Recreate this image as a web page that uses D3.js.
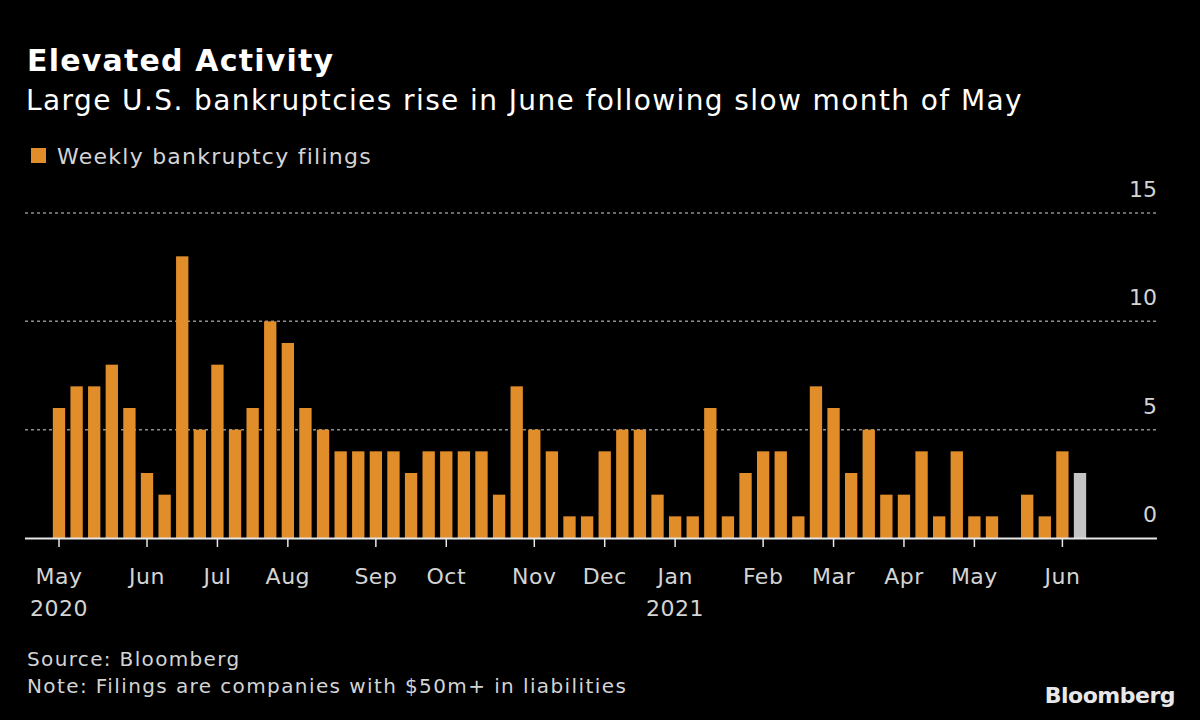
<!DOCTYPE html>
<html>
<head>
<meta charset="utf-8">
<script src="https://cdn.jsdelivr.net/npm/d3@7"></script>
<style>
  html, body { margin: 0; padding: 0; background: #000; }
  svg { display: block; }
  text { font-family: "DejaVu Sans", sans-serif; }
</style>
</head>
<body>
<svg id="chart" width="1200" height="720"></svg>
<script>
// ---- Data ----
const firstWeekEnding = "2020-05-02"; // weekly bars, weeks ending Saturday
const filings = [6, 7, 7, 8, 6, 3, 2, 13, 5, 8, 5, 6, 10, 9, 6, 5, 4, 4, 4, 4,
                 3, 4, 4, 4, 4, 2, 7, 5, 4, 1, 1, 4, 5, 5, 2, 1, 1, 6, 1, 3,
                 4, 4, 1, 7, 6, 3, 5, 2, 2, 4, 1, 4, 1, 1, 0, 2, 1, 4, 3];
const partialWeeks = [58]; // index of the current, incomplete week (gray)
const yTicks = [0, 5, 10, 15];
const monthTicks = ["2020-05-01", "2020-06-01", "2020-07-01", "2020-08-01", "2020-09-01",
                    "2020-10-01", "2020-11-01", "2020-12-01", "2021-01-01", "2021-02-01",
                    "2021-03-01", "2021-04-01", "2021-05-01", "2021-06-01"];

const parse = d3.utcParse("%Y-%m-%d");
const start = parse(firstWeekEnding);
const weeks = filings.map((v, i) => ({ date: d3.utcDay.offset(start, 7 * i), value: v, i }));

const svg = d3.select("#chart");
svg.append("rect").attr("width", 1200).attr("height", 720).attr("fill", "#000");

const ORANGE = "#e08d2a";
const GRAY = "#c4c4c4";
const TEXT = "#d4d4d4";

// ---- Scales ----
const x = d3.scaleBand()
  .domain(weeks.map(d => d.i))
  .range([50.2, 1088.8])
  .paddingInner(0.3)
  .paddingOuter(0.15);
const y = d3.scaleLinear().domain([0, 15]).range([538, 213]);

const plotLeft = 25, plotRight = 1157;

// ---- Gridlines ----
svg.append("g").selectAll("line")
  .data(yTicks.filter(t => t > 0))
  .join("line")
  .attr("x1", plotLeft).attr("x2", plotRight)
  .attr("y1", d => y(d)).attr("y2", d => y(d))
  .attr("stroke", "#8f8f8f").attr("stroke-width", 1.5)
  .attr("stroke-dasharray", "3,3");

// ---- Y labels (right, above gridlines) ----
svg.append("g").selectAll("text")
  .data(yTicks)
  .join("text")
  .attr("x", plotRight).attr("y", d => y(d) - 16)
  .attr("text-anchor", "end")
  .attr("fill", TEXT).attr("font-size", 22)
  .text(d => d);

// ---- Bars ----
svg.append("g").selectAll("rect")
  .data(weeks)
  .join("rect")
  .attr("x", d => x(d.i))
  .attr("width", x.bandwidth())
  .attr("y", d => y(d.value))
  .attr("height", d => y(0) - y(d.value))
  .attr("fill", d => partialWeeks.includes(d.i) ? GRAY : ORANGE);

// ---- Baseline ----
svg.append("line")
  .attr("x1", plotLeft).attr("x2", plotRight)
  .attr("y1", y(0) + 0.5).attr("y2", y(0) + 0.5)
  .attr("stroke", "#e6e6e6").attr("stroke-width", 2);

// ---- X ticks: first week ending on/after month start ----
const tickInfo = monthTicks.map(m => {
  const md = parse(m);
  const w = weeks.find(d => d.date >= md);
  return { month: md, idx: w.i };
});
const monthFmt = d3.utcFormat("%b");
const xAxis = svg.append("g");
xAxis.selectAll("line")
  .data(tickInfo)
  .join("line")
  .attr("x1", d => x(d.idx) + x.bandwidth() / 2)
  .attr("x2", d => x(d.idx) + x.bandwidth() / 2)
  .attr("y1", y(0)).attr("y2", y(0) + 9)
  .attr("stroke", "#e6e6e6").attr("stroke-width", 1.5);
xAxis.selectAll("text.m")
  .data(tickInfo)
  .join("text")
  .attr("class", "m")
  .attr("x", d => x(d.idx) + x.bandwidth() / 2)
  .attr("y", 584)
  .attr("text-anchor", "middle")
  .attr("fill", TEXT).attr("font-size", 22).attr("letter-spacing", 0.5)
  .text(d => monthFmt(d.month));
xAxis.selectAll("text.yr")
  .data(tickInfo.filter(d => d.month.getUTCMonth() === 0 || d === tickInfo[0]))
  .join("text")
  .attr("class", "yr")
  .attr("x", d => x(d.idx) + x.bandwidth() / 2)
  .attr("y", 616)
  .attr("text-anchor", "middle")
  .attr("fill", TEXT).attr("font-size", 22).attr("letter-spacing", 0.5)
  .text(d => d.month.getUTCFullYear());

// ---- Titles ----
svg.append("text").attr("x", 27).attr("y", 71)
  .attr("fill", "#fff").attr("font-size", 30).attr("font-weight", "bold")
  .attr("letter-spacing", 1.2)
  .text("Elevated Activity");
svg.append("text").attr("x", 26).attr("y", 110)
  .attr("fill", "#fff").attr("font-size", 28)
  .attr("letter-spacing", 1.4)
  .text("Large U.S. bankruptcies rise in June following slow month of May");

// ---- Legend ----
svg.append("rect").attr("x", 31).attr("y", 148).attr("width", 15).attr("height", 15).attr("fill", ORANGE);
svg.append("text").attr("x", 57).attr("y", 164)
  .attr("fill", TEXT).attr("font-size", 22).attr("letter-spacing", 1.25)
  .text("Weekly bankruptcy filings");

// ---- Footer ----
svg.append("text").attr("x", 27).attr("y", 666)
  .attr("fill", TEXT).attr("font-size", 20).attr("letter-spacing", 1.35)
  .text("Source: Bloomberg");
svg.append("text").attr("x", 27).attr("y", 693)
  .attr("fill", TEXT).attr("font-size", 20).attr("letter-spacing", 1.4)
  .text("Note: Filings are companies with $50m+ in liabilities");
svg.append("text").attr("x", 1175).attr("y", 703)
  .attr("text-anchor", "end")
  .attr("fill", "#e8e8e8").attr("font-size", 22).attr("font-weight", "bold")
  .attr("font-family", "'Liberation Sans Narrow', 'Liberation Sans', sans-serif")
  .attr("letter-spacing", -0.5)
  .text("Bloomberg");
</script>
</body>
</html>
